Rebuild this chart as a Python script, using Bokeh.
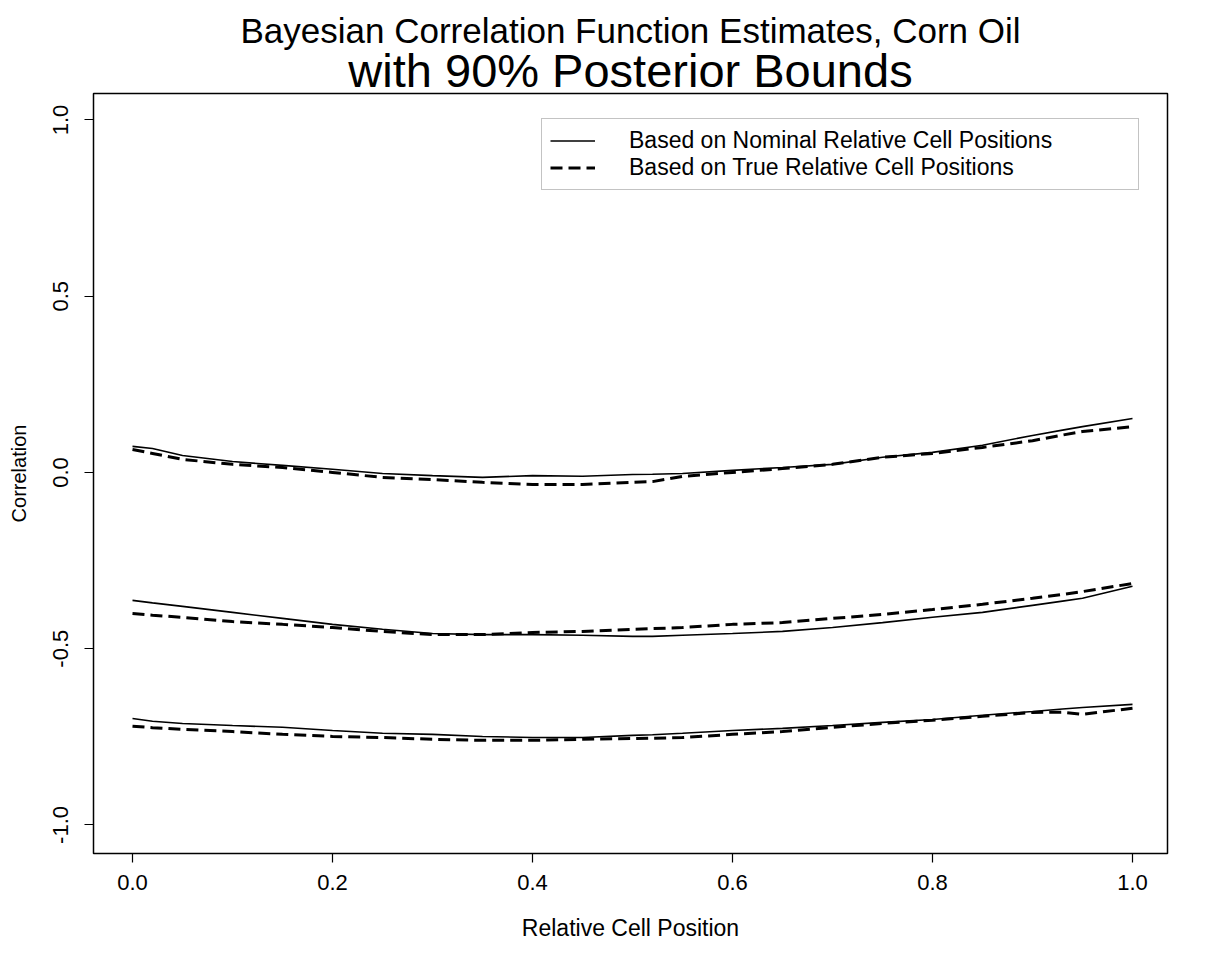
from bokeh.plotting import figure
from bokeh.models import Title, Legend, LegendItem, FixedTicker
from bokeh.embed import file_html
from bokeh.resources import INLINE

# Relative cell position grid
x_pos = [0.0, 0.02, 0.05, 0.1, 0.15, 0.2, 0.25, 0.3, 0.35, 0.4, 0.45, 0.5,
         0.52, 0.55, 0.6, 0.65, 0.7, 0.75, 0.8, 0.85, 0.9, 0.93, 0.95, 1.0]

# Nominal relative cell positions (solid)
nom_upper = [0.074, 0.068, 0.048, 0.031, 0.020, 0.009, -0.003, -0.009, -0.014, -0.009, -0.011, -0.006,
             -0.005, -0.003, 0.006, 0.014, 0.023, 0.043, 0.057, 0.077, 0.105, 0.120, 0.130, 0.153]
nom_mid = [-0.363, -0.370, -0.380, -0.397, -0.414, -0.431, -0.445, -0.457, -0.460, -0.460, -0.462, -0.465,
           -0.465, -0.462, -0.457, -0.451, -0.440, -0.426, -0.411, -0.397, -0.377, -0.365, -0.357, -0.323]
nom_lower = [-0.698, -0.706, -0.712, -0.718, -0.723, -0.732, -0.740, -0.743, -0.749, -0.752, -0.752, -0.746,
             -0.744, -0.740, -0.732, -0.726, -0.718, -0.709, -0.701, -0.689, -0.678, -0.671, -0.667, -0.658]

# True relative cell positions (dashed)
true_upper = [0.065, 0.054, 0.037, 0.023, 0.014, 0.000, -0.014, -0.020, -0.028, -0.034, -0.034, -0.028,
              -0.026, -0.011, 0.000, 0.011, 0.023, 0.043, 0.054, 0.071, 0.090, 0.106, 0.116, 0.130]
true_mid = [-0.400, -0.405, -0.411, -0.423, -0.431, -0.440, -0.451, -0.460, -0.460, -0.454, -0.451, -0.445,
            -0.443, -0.440, -0.431, -0.426, -0.414, -0.403, -0.389, -0.374, -0.357, -0.346, -0.338, -0.315]
true_lower = [-0.720, -0.724, -0.729, -0.735, -0.743, -0.749, -0.752, -0.757, -0.760, -0.760, -0.757, -0.755,
              -0.754, -0.752, -0.743, -0.735, -0.723, -0.712, -0.703, -0.692, -0.681, -0.680, -0.686, -0.669]

x_ticks = [0.0, 0.2, 0.4, 0.6, 0.8, 1.0]
y_ticks = [-1.0, -0.5, 0.0, 0.5, 1.0]
legend_labels = ["Based on Nominal Relative Cell Positions", "Based on True Relative Cell Positions"]

FONT = "Liberation Sans"

p = figure(width=1215, height=962, output_backend="svg", toolbar_location=None,
           x_range=(-0.039, 1.035), y_range=(-1.081, 1.075),
           min_border_left=93, min_border_right=48, min_border_top=93, min_border_bottom=109)

p.add_layout(Title(text="with 90% Posterior Bounds", align="center", text_font=FONT,
                   text_font_size="47px", text_font_style="normal", text_color="black",
                   standoff=-6, offset=0), "above")
p.add_layout(Title(text="Bayesian Correlation Function Estimates, Corn Oil", align="center",
                   text_font=FONT, text_font_size="35px", text_font_style="normal",
                   text_color="black", standoff=-10, offset=0), "above")

p.xgrid.visible = False
p.ygrid.visible = False
p.outline_line_color = "black"
p.outline_line_width = 1.5
p.background_fill_color = "white"
p.border_fill_color = "white"

for ax in (p.xaxis[0], p.yaxis[0]):
    ax.axis_line_color = None
    ax.major_tick_line_color = "black"
    ax.major_tick_line_width = 1.2
    ax.major_tick_in = 0
    ax.major_tick_out = 9
    ax.minor_tick_line_color = None
    ax.major_label_text_font = FONT
    ax.major_label_text_font_size = "22px"
    ax.major_label_text_color = "black"
    ax.axis_label_text_font = FONT
    ax.axis_label_text_font_style = "normal"
    ax.axis_label_text_color = "black"

p.xaxis.ticker = FixedTicker(ticks=x_ticks)
p.yaxis.ticker = FixedTicker(ticks=y_ticks)
p.xaxis.major_label_overrides = {v: f"{v:.1f}" for v in x_ticks}
p.yaxis.major_label_overrides = {v: f"{v:.1f}" for v in y_ticks}
p.yaxis.major_label_orientation = "vertical"
p.xaxis.axis_label = "Relative Cell Position"
p.yaxis.axis_label = "Correlation"
p.xaxis.major_label_standoff = 12
p.xaxis.axis_label_standoff = 22
p.xaxis.axis_label_text_font_size = "23px"
p.yaxis.major_label_standoff = 16
p.yaxis.axis_label_standoff = 21
p.yaxis.axis_label_text_font_size = "20px"

solid_r = []
dash_r = []
for ys in (nom_upper, nom_mid, nom_lower):
    solid_r.append(p.line(x_pos, ys, line_color="black", line_width=1.6))
for ys in (true_upper, true_mid, true_lower):
    dash_r.append(p.line(x_pos, ys, line_color="black", line_width=3, line_dash="12 6"))

legend = Legend(items=[LegendItem(label=legend_labels[0], renderers=[solid_r[0]]),
                       LegendItem(label=legend_labels[1], renderers=[dash_r[0]])],
                location=(448, 663), orientation="vertical",
                padding=8, margin=0, spacing=0,
                glyph_width=45, glyph_height=23, label_height=23, label_width=501,
                label_standoff=34,
                label_text_font=FONT, label_text_font_size="23px", label_text_color="black",
                border_line_color="#888888", border_line_width=1.2,
                background_fill_color="white", background_fill_alpha=1.0)
p.add_layout(legend)

open("out.html", "w").write(file_html(p, INLINE))
